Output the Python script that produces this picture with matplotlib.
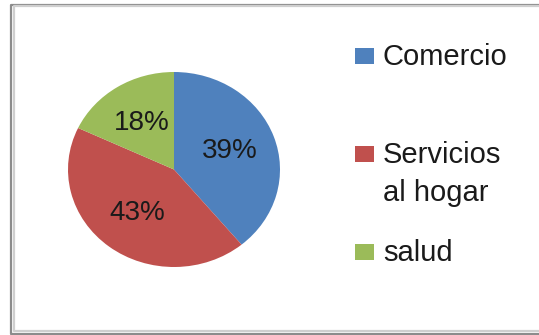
import matplotlib.pyplot as plt
from matplotlib.patches import Rectangle

plt.rcParams["font.family"] = ["Liberation Sans", "DejaVu Sans"]

categories = ["Comercio", "Servicios\nal hogar", "salud"]
shares = [39, 43, 18]
colors = ["#4F81BD", "#C0504D", "#9BBB59"]

W, H = 539, 335
fig = plt.figure(figsize=(W / 100, H / 100), dpi=100)


def fx(x):
    return x / W


def fy(y):
    return 1 - y / H


# pie area (slightly wider than tall, as in the exported chart)
ax = fig.add_axes([fx(68), fy(267), (280 - 68) / W, (267 - 72) / H])
wedges, _, pct = ax.pie(
    shares,
    colors=colors,
    startangle=90,
    counterclock=False,
    autopct="%1.0f%%",
    pctdistance=0.56,
    textprops={"fontsize": 20, "color": "#1a1a1a"},
    wedgeprops={"linewidth": 0},
)
ax.set_aspect("auto")
ax.set_xlim(-1, 1)
ax.set_ylim(-1, 1)
ax.axis("off")

# legend drawn by hand: square swatch next to the first line of each entry
legend_rows = [65, 163, 261]
line_step = 38
for label, color, base in zip(categories, colors, legend_rows):
    fig.add_artist(Rectangle((fx(355), fy(base - 1)), 19 / W, 16 / H,
                             transform=fig.transFigure, color=color, lw=0))
    for i, line in enumerate(label.split("\n")):
        fig.text(fx(383), fy(base + i * line_step), line, fontsize=21,
                 color="#1a1a1a", va="baseline", ha="left")

# chart frame: dark outer line plus a lighter inner one, open on the right
for x0, y0, y1, col in [(11.3, 4.8, 333.6, "#8c8c8c"), (13.8, 6.4, 330.5, "#cfcfcf")]:
    xs = [fx(560), fx(x0), fx(x0), fx(560)]
    ys = [fy(y0), fy(y0), fy(y1), fy(y1)]
    fig.add_artist(plt.Line2D(xs, ys, transform=fig.transFigure, color=col, lw=1.6))

fig.savefig("out.png", dpi=100)
